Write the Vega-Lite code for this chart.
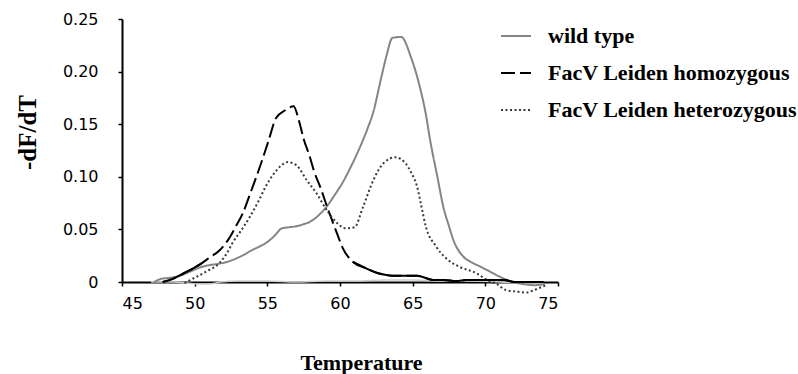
{
  "$schema": "https://vega.github.io/schema/vega-lite/v6.json",
  "width": 436,
  "height": 263,
  "autosize": {"type": "none"},
  "padding": {"left": 122, "top": 19, "right": 240, "bottom": 92},
  "background": "white",
  "config": {
    "view": {"stroke": null},
    "axis": {
      "grid": false,
      "domainColor": "#000",
      "domainWidth": 2,
      "tickColor": "#000",
      "tickWidth": 1.5,
      "tickSize": 4,
      "labelFont": "DejaVu Sans",
      "labelFontSize": 16,
      "labelColor": "#000",
      "titleFont": "Liberation Serif",
      "titleFontWeight": "bold",
      "titleFontSize": 22,
      "titleColor": "#000"
    }
  },
  "datasets": {
    "curves": [
      {"series": "wild type", "T": 47.2, "v": 0},
      {"series": "wild type", "T": 47.7, "v": 0.003},
      {"series": "wild type", "T": 48.3, "v": 0.004},
      {"series": "wild type", "T": 49.0, "v": 0.006},
      {"series": "wild type", "T": 49.7, "v": 0.010},
      {"series": "wild type", "T": 50.4, "v": 0.014},
      {"series": "wild type", "T": 51.0, "v": 0.016},
      {"series": "wild type", "T": 51.5, "v": 0.017},
      {"series": "wild type", "T": 52.2, "v": 0.019},
      {"series": "wild type", "T": 52.8, "v": 0.022},
      {"series": "wild type", "T": 53.4, "v": 0.026},
      {"series": "wild type", "T": 53.9, "v": 0.030},
      {"series": "wild type", "T": 54.5, "v": 0.034},
      {"series": "wild type", "T": 55.0, "v": 0.038},
      {"series": "wild type", "T": 55.5, "v": 0.044},
      {"series": "wild type", "T": 56.0, "v": 0.051},
      {"series": "wild type", "T": 56.5, "v": 0.052},
      {"series": "wild type", "T": 57.0, "v": 0.053},
      {"series": "wild type", "T": 57.5, "v": 0.055},
      {"series": "wild type", "T": 57.9, "v": 0.057},
      {"series": "wild type", "T": 58.5, "v": 0.063},
      {"series": "wild type", "T": 59.1, "v": 0.072},
      {"series": "wild type", "T": 59.6, "v": 0.082},
      {"series": "wild type", "T": 60.2, "v": 0.095},
      {"series": "wild type", "T": 60.8, "v": 0.111},
      {"series": "wild type", "T": 61.4, "v": 0.129},
      {"series": "wild type", "T": 61.9, "v": 0.146},
      {"series": "wild type", "T": 62.3, "v": 0.162},
      {"series": "wild type", "T": 62.8, "v": 0.192},
      {"series": "wild type", "T": 63.2, "v": 0.215},
      {"series": "wild type", "T": 63.6, "v": 0.232},
      {"series": "wild type", "T": 64.2, "v": 0.233},
      {"series": "wild type", "T": 64.9, "v": 0.213},
      {"series": "wild type", "T": 65.5, "v": 0.185},
      {"series": "wild type", "T": 65.9, "v": 0.160},
      {"series": "wild type", "T": 66.2, "v": 0.135},
      {"series": "wild type", "T": 66.7, "v": 0.100},
      {"series": "wild type", "T": 67.1, "v": 0.072},
      {"series": "wild type", "T": 67.5, "v": 0.053},
      {"series": "wild type", "T": 67.8, "v": 0.040},
      {"series": "wild type", "T": 68.5, "v": 0.024},
      {"series": "wild type", "T": 69.0, "v": 0.019},
      {"series": "wild type", "T": 69.6, "v": 0.015},
      {"series": "wild type", "T": 70.3, "v": 0.010},
      {"series": "wild type", "T": 71.0, "v": 0.005},
      {"series": "wild type", "T": 71.9, "v": 0.000},
      {"series": "wild type", "T": 72.6, "v": -0.002},
      {"series": "wild type", "T": 73.4, "v": -0.003},
      {"series": "wild type", "T": 74.1, "v": -0.002},

      {"series": "FacV Leiden homozygous", "T": 47.8, "v": 0},
      {"series": "FacV Leiden homozygous", "T": 48.5, "v": 0.003},
      {"series": "FacV Leiden homozygous", "T": 49.2, "v": 0.008},
      {"series": "FacV Leiden homozygous", "T": 49.9, "v": 0.013},
      {"series": "FacV Leiden homozygous", "T": 50.5, "v": 0.018},
      {"series": "FacV Leiden homozygous", "T": 51.0, "v": 0.023},
      {"series": "FacV Leiden homozygous", "T": 51.7, "v": 0.030},
      {"series": "FacV Leiden homozygous", "T": 52.3, "v": 0.040},
      {"series": "FacV Leiden homozygous", "T": 52.8, "v": 0.052},
      {"series": "FacV Leiden homozygous", "T": 53.3, "v": 0.065},
      {"series": "FacV Leiden homozygous", "T": 53.9, "v": 0.087},
      {"series": "FacV Leiden homozygous", "T": 54.5, "v": 0.110},
      {"series": "FacV Leiden homozygous", "T": 55.1, "v": 0.135},
      {"series": "FacV Leiden homozygous", "T": 55.6, "v": 0.156},
      {"series": "FacV Leiden homozygous", "T": 56.2, "v": 0.163},
      {"series": "FacV Leiden homozygous", "T": 56.8, "v": 0.167},
      {"series": "FacV Leiden homozygous", "T": 57.2, "v": 0.152},
      {"series": "FacV Leiden homozygous", "T": 57.5, "v": 0.136},
      {"series": "FacV Leiden homozygous", "T": 57.9, "v": 0.120},
      {"series": "FacV Leiden homozygous", "T": 58.2, "v": 0.106},
      {"series": "FacV Leiden homozygous", "T": 58.7, "v": 0.088},
      {"series": "FacV Leiden homozygous", "T": 59.1, "v": 0.072},
      {"series": "FacV Leiden homozygous", "T": 59.5, "v": 0.057},
      {"series": "FacV Leiden homozygous", "T": 59.8, "v": 0.046},
      {"series": "FacV Leiden homozygous", "T": 60.2, "v": 0.032},
      {"series": "FacV Leiden homozygous", "T": 60.9, "v": 0.019},
      {"series": "FacV Leiden homozygous", "T": 61.8, "v": 0.013},
      {"series": "FacV Leiden homozygous", "T": 62.7, "v": 0.008},
      {"series": "FacV Leiden homozygous", "T": 63.6, "v": 0.006},
      {"series": "FacV Leiden homozygous", "T": 64.5, "v": 0.006},
      {"series": "FacV Leiden homozygous", "T": 65.3, "v": 0.006},
      {"series": "FacV Leiden homozygous", "T": 66.4, "v": 0.002},
      {"series": "FacV Leiden homozygous", "T": 67.1, "v": 0.002},
      {"series": "FacV Leiden homozygous", "T": 68.0, "v": 0.001},
      {"series": "FacV Leiden homozygous", "T": 68.7, "v": 0.002},
      {"series": "FacV Leiden homozygous", "T": 69.5, "v": 0.002},
      {"series": "FacV Leiden homozygous", "T": 70.5, "v": 0.002},
      {"series": "FacV Leiden homozygous", "T": 71.3, "v": 0.002},
      {"series": "FacV Leiden homozygous", "T": 72.0, "v": 0.000},
      {"series": "FacV Leiden homozygous", "T": 73.0, "v": 0.000},
      {"series": "FacV Leiden homozygous", "T": 74.0, "v": 0.000},

      {"series": "FacV Leiden heterozygous", "T": 49.3, "v": -0.001},
      {"series": "FacV Leiden heterozygous", "T": 50.0, "v": 0.004},
      {"series": "FacV Leiden heterozygous", "T": 50.8, "v": 0.010},
      {"series": "FacV Leiden heterozygous", "T": 51.7, "v": 0.018},
      {"series": "FacV Leiden heterozygous", "T": 52.2, "v": 0.027},
      {"series": "FacV Leiden heterozygous", "T": 52.6, "v": 0.037},
      {"series": "FacV Leiden heterozygous", "T": 53.2, "v": 0.049},
      {"series": "FacV Leiden heterozygous", "T": 53.8, "v": 0.062},
      {"series": "FacV Leiden heterozygous", "T": 54.4, "v": 0.077},
      {"series": "FacV Leiden heterozygous", "T": 54.9, "v": 0.091},
      {"series": "FacV Leiden heterozygous", "T": 55.4, "v": 0.102},
      {"series": "FacV Leiden heterozygous", "T": 55.9, "v": 0.110},
      {"series": "FacV Leiden heterozygous", "T": 56.4, "v": 0.114},
      {"series": "FacV Leiden heterozygous", "T": 57.0, "v": 0.111},
      {"series": "FacV Leiden heterozygous", "T": 57.7, "v": 0.097},
      {"series": "FacV Leiden heterozygous", "T": 58.4, "v": 0.084},
      {"series": "FacV Leiden heterozygous", "T": 59.1, "v": 0.068},
      {"series": "FacV Leiden heterozygous", "T": 59.8, "v": 0.056},
      {"series": "FacV Leiden heterozygous", "T": 60.4, "v": 0.051},
      {"series": "FacV Leiden heterozygous", "T": 61.0, "v": 0.052},
      {"series": "FacV Leiden heterozygous", "T": 61.6, "v": 0.072},
      {"series": "FacV Leiden heterozygous", "T": 62.3, "v": 0.097},
      {"series": "FacV Leiden heterozygous", "T": 63.0, "v": 0.113},
      {"series": "FacV Leiden heterozygous", "T": 63.8, "v": 0.1185},
      {"series": "FacV Leiden heterozygous", "T": 64.5, "v": 0.113},
      {"series": "FacV Leiden heterozygous", "T": 64.9, "v": 0.104},
      {"series": "FacV Leiden heterozygous", "T": 65.3, "v": 0.091},
      {"series": "FacV Leiden heterozygous", "T": 65.6, "v": 0.072},
      {"series": "FacV Leiden heterozygous", "T": 65.9, "v": 0.053},
      {"series": "FacV Leiden heterozygous", "T": 66.6, "v": 0.034},
      {"series": "FacV Leiden heterozygous", "T": 67.3, "v": 0.0225},
      {"series": "FacV Leiden heterozygous", "T": 68.2, "v": 0.0146},
      {"series": "FacV Leiden heterozygous", "T": 69.4, "v": 0.0083},
      {"series": "FacV Leiden heterozygous", "T": 70.1, "v": 0.002},
      {"series": "FacV Leiden heterozygous", "T": 70.8, "v": -0.002},
      {"series": "FacV Leiden heterozygous", "T": 71.4, "v": -0.0076},
      {"series": "FacV Leiden heterozygous", "T": 72.1, "v": -0.009},
      {"series": "FacV Leiden heterozygous", "T": 72.8, "v": -0.010},
      {"series": "FacV Leiden heterozygous", "T": 73.3, "v": -0.008},
      {"series": "FacV Leiden heterozygous", "T": 73.7, "v": -0.0057},
      {"series": "FacV Leiden heterozygous", "T": 74.2, "v": -0.003},

      {"series": "control", "T": 47.0, "v": 0.000},
      {"series": "control", "T": 48.5, "v": 0.000},
      {"series": "control", "T": 49.5, "v": -0.001},
      {"series": "control", "T": 50.3, "v": -0.002},
      {"series": "control", "T": 51.0, "v": -0.002},
      {"series": "control", "T": 51.8, "v": 0.000},
      {"series": "control", "T": 53.0, "v": 0.001},
      {"series": "control", "T": 55.0, "v": 0.001},
      {"series": "control", "T": 57.0, "v": 0.000},
      {"series": "control", "T": 59.0, "v": 0.001},
      {"series": "control", "T": 61.0, "v": 0.001},
      {"series": "control", "T": 63.0, "v": 0.002},
      {"series": "control", "T": 65.0, "v": 0.002},
      {"series": "control", "T": 67.0, "v": 0.001},
      {"series": "control", "T": 69.0, "v": 0.001},
      {"series": "control", "T": 71.0, "v": 0.000},
      {"series": "control", "T": 73.0, "v": -0.001},
      {"series": "control", "T": 74.0, "v": -0.001}
    ]
  },
  "data": {"name": "curves"},
  "encoding": {
    "x": {
      "field": "T",
      "type": "quantitative",
      "scale": {"domain": [45, 75], "nice": false, "zero": false},
      "axis": {
        "title": "Temperature",
        "values": [45, 50, 55, 60, 65, 70, 75],
        "labelPadding": 9,
        "labelDx": 8,
        "titleX": 239,
        "titleY": 80,
        "titleAlign": "center",
        "titleBaseline": "middle"
      }
    },
    "y": {
      "field": "v",
      "type": "quantitative",
      "scale": {"domain": [0, 0.25], "nice": false},
      "axis": {
        "title": "-dF/dT",
        "titleFontSize": 25,
        "values": [0, 0.05, 0.1, 0.15, 0.2, 0.25],
        "labelExpr": "datum.value == 0 ? '0' : format(datum.value, '.2f')",
        "labelPadding": 20,
        "titleX": -95,
        "titleY": 113,
        "titleAngle": 270,
        "titleAlign": "center",
        "titleBaseline": "middle"
      }
    }
  },
  "layer": [
    {
      "transform": [{"filter": "datum.series == 'control'"}],
      "mark": {"type": "line", "color": "#cfcfcf", "strokeWidth": 1.5, "interpolate": "monotone"}
    },
    {
      "transform": [{"filter": "datum.series != 'control'"}],
      "mark": {"type": "line", "strokeWidth": 2, "interpolate": "monotone"},
      "encoding": {
        "color": {
          "field": "series",
          "type": "nominal",
          "scale": {
            "domain": ["wild type", "FacV Leiden homozygous", "FacV Leiden heterozygous"],
            "range": ["#858585", "#000000", "#3a3a3a"]
          },
          "legend": {
            "title": null,
            "orient": "none",
            "legendX": 378,
            "legendY": 1,
            "symbolType": "stroke",
            "symbolSize": 900,
            "symbolStrokeWidth": 2,
            "labelFont": "Liberation Serif",
            "labelFontWeight": "bold",
            "labelFontSize": 22,
            "labelColor": "#000",
            "labelLimit": 400,
            "labelOffset": 16,
            "rowPadding": 10,
            "padding": 0
          }
        },
        "strokeDash": {
          "field": "series",
          "type": "nominal",
          "scale": {
            "domain": ["wild type", "FacV Leiden homozygous", "FacV Leiden heterozygous"],
            "range": [[1, 0], [14, 5], [2, 2.5]]
          },
          "legend": {
            "title": null,
            "orient": "none",
            "legendX": 378,
            "legendY": 1,
            "symbolType": "stroke",
            "symbolSize": 900,
            "symbolStrokeWidth": 2,
            "labelFont": "Liberation Serif",
            "labelFontWeight": "bold",
            "labelFontSize": 22,
            "labelColor": "#000",
            "labelLimit": 400,
            "labelOffset": 16,
            "rowPadding": 10,
            "padding": 0
          }
        }
      }
    },
    {
      "transform": [{"filter": "datum.series == 'FacV Leiden homozygous' && datum.T <= 50.5"}],
      "mark": {"type": "line", "color": "#000", "strokeWidth": 2, "interpolate": "monotone"}
    },
    {
      "transform": [{"filter": "datum.series == 'FacV Leiden homozygous' && datum.T >= 60.9"}],
      "mark": {"type": "line", "color": "#000", "strokeWidth": 2, "interpolate": "monotone"}
    }
  ]
}
